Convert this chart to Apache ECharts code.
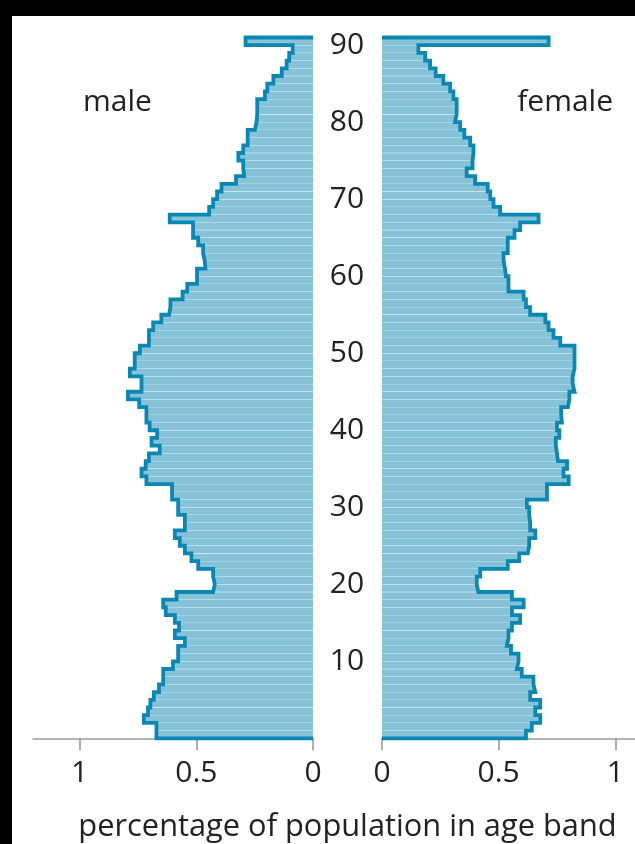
<!DOCTYPE html>
<html>
<head>
<meta charset="utf-8">
<script src="https://cdn.jsdelivr.net/npm/echarts@6/dist/echarts.min.js"></script>
<style>
html,body{margin:0;padding:0;background:#fff;}
#chart{width:635px;height:844px;}
</style>
</head>
<body>
<div id="chart"></div>
<script>
// ages 0..90 (90 = 90 and over)
var ages = [];
for (var a = 0; a <= 90; a++) ages.push(a);

var male = [
0.671,0.671,0.725,0.707,0.697,0.682,0.660,0.642,0.642,0.600,
0.578,0.578,0.549,0.592,0.574,0.592,0.631,0.642,0.585,0.428,
0.421,0.428,0.492,0.521,0.549,0.571,0.592,0.549,0.549,0.578,
0.578,0.604,0.604,0.714,0.735,0.717,0.703,0.657,0.692,0.668,
0.700,0.714,0.714,0.745,0.793,0.735,0.735,0.785,0.764,0.764,
0.742,0.703,0.703,0.685,0.650,0.617,0.611,0.559,0.539,0.497,
0.497,0.461,0.464,0.471,0.492,0.514,0.514,0.614,0.445,0.428,
0.411,0.392,0.330,0.295,0.299,0.320,0.299,0.280,0.280,0.249,
0.242,0.239,0.239,0.206,0.196,0.170,0.134,0.113,0.102,0.087,
0.289
];

var female = [
0.617,0.642,0.678,0.657,0.678,0.635,0.657,0.649,0.599,0.578,
0.585,0.553,0.535,0.542,0.557,0.592,0.557,0.607,0.557,0.413,
0.406,0.421,0.539,0.588,0.625,0.631,0.657,0.635,0.635,0.631,
0.621,0.707,0.707,0.800,0.778,0.793,0.754,0.750,0.745,0.760,
0.750,0.771,0.768,0.797,0.803,0.825,0.817,0.817,0.825,0.825,
0.825,0.764,0.735,0.714,0.700,0.635,0.617,0.607,0.542,0.542,
0.531,0.527,0.521,0.539,0.539,0.568,0.592,0.671,0.506,0.478,
0.464,0.453,0.399,0.363,0.388,0.388,0.392,0.378,0.353,0.335,
0.313,0.320,0.320,0.306,0.292,0.263,0.230,0.206,0.185,0.156,
0.714
];

var xTickLabels = [0, 0.5, 1];
var ageTickLabels = [10, 20, 30, 40, 50, 60, 70, 80, 90];
var sideLabels = ['male', 'female'];
var xTitle = 'percentage of population in age band';

// step outline built from the data: top edge of oldest band down to the base
function outline(vals) {
  var n = vals.length;
  var pts = [[0, n]];
  for (var i = n - 1; i >= 0; i--) {
    pts.push([vals[i], i + 1]);
    pts.push([vals[i], i]);
  }
  pts.push([0, 0]);
  return pts;
}

var FONT = "'Open Sans', 'Noto Sans', sans-serif";
var FS = 30;
var FILL = '#86c2d8';
var LINE = '#0a87b3';
var TXT = '#222';
var AX = '#9a9a9a';

function xAxisCfg(idx, inverse) {
  return {
    type: 'value', gridIndex: idx, min: 0, max: 1.2, interval: 0.5, inverse: inverse,
    offset: 2,
    axisLine: { show: true, lineStyle: { color: AX, width: 1.6 } },
    axisTick: { show: true, length: 12, lineStyle: { color: AX, width: 1.6 } },
    splitLine: { show: false },
    axisLabel: {
      margin: 18, fontSize: FS, fontFamily: FONT, color: TXT,
      showMaxLabel: false,
      formatter: function (v) { return xTickLabels.indexOf(v) >= 0 ? String(v) : ''; }
    }
  };
}

var chart = echarts.init(document.getElementById('chart'), null, { renderer: 'canvas' });
var option = {
  animation: false,
  backgroundColor: '#fff',
  grid: [
    { left: 33, width: 280, top: 37.5, height: 700.8, containLabel: false, outerBoundsMode: 'none' },
    { left: 382, width: 280, top: 37.5, height: 700.8, containLabel: false, outerBoundsMode: 'none' }
  ],
  xAxis: [xAxisCfg(0, true), xAxisCfg(1, false)],
  yAxis: [
    { type: 'category', gridIndex: 0, data: ages, show: false },
    {
      type: 'value', gridIndex: 0, min: 0, max: 91, interval: 10, position: 'right',
      axisLine: { show: false }, axisTick: { show: false }, splitLine: { show: false },
      axisLabel: {
        align: 'center', margin: 34, fontSize: FS, fontFamily: FONT, color: TXT,
        showMinLabel: false, showMaxLabel: false,
        formatter: function (v) { return ageTickLabels.indexOf(v) >= 0 ? String(v) : ''; }
      }
    },
    { type: 'category', gridIndex: 1, data: ages, show: false },
    { type: 'value', gridIndex: 1, min: 0, max: 91, show: false }
  ],
  series: [
    {
      type: 'bar', xAxisIndex: 0, yAxisIndex: 0, data: male, barCategoryGap: '4%',
      itemStyle: { color: FILL }, silent: true
    },
    {
      type: 'line', xAxisIndex: 0, yAxisIndex: 1, data: outline(male), symbol: 'none', clip: false,
      lineStyle: { color: LINE, width: 3.8, join: 'miter', cap: 'butt' }, silent: true
    },
    {
      type: 'bar', xAxisIndex: 1, yAxisIndex: 2, data: female, barCategoryGap: '4%',
      itemStyle: { color: FILL }, silent: true
    },
    {
      type: 'line', xAxisIndex: 1, yAxisIndex: 3, data: outline(female), symbol: 'none', clip: false,
      lineStyle: { color: LINE, width: 3.8, join: 'miter', cap: 'butt' }, silent: true
    }
  ],
  graphic: [
    { type: 'text', x: 83, y: 102, style: { text: sideLabels[0], font: FS + 'px ' + FONT, fill: TXT, align: 'left', verticalAlign: 'middle' } },
    { type: 'text', x: 613, y: 102, style: { text: sideLabels[1], font: FS + 'px ' + FONT, fill: TXT, align: 'right', verticalAlign: 'middle' } },
    { type: 'text', x: 347.5, y: 827, style: { text: xTitle, font: '30.8px ' + FONT, fill: TXT, align: 'center', verticalAlign: 'middle' } },
    { type: 'rect', x: 0, y: 0, shape: { width: 635, height: 16 }, style: { fill: '#000' } },
    { type: 'rect', x: 0, y: 0, shape: { width: 12, height: 844 }, style: { fill: '#000' } }
  ]
};
chart.setOption(option);
</script>
</body>
</html>
